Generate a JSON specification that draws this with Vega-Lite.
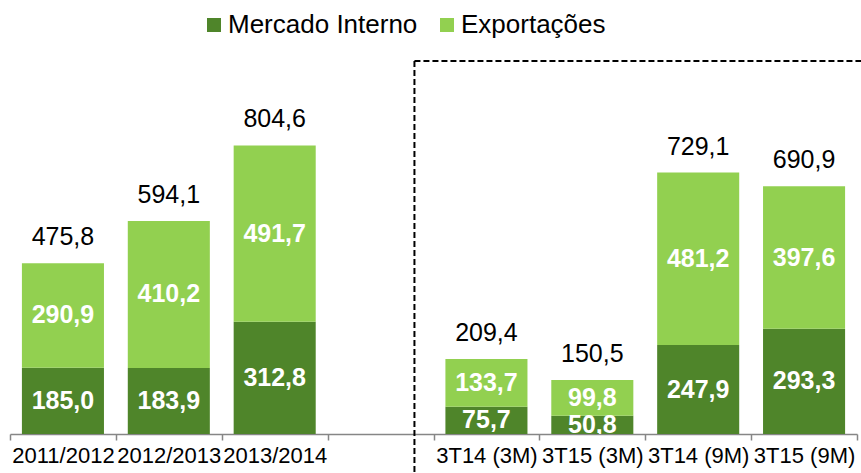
{
  "$schema": "https://vega.github.io/schema/vega-lite/v6.json",
  "width": 847,
  "height": 373,
  "autosize": {"type": "none"},
  "padding": {"left": 10, "top": 61, "right": 4, "bottom": 39},
  "datasets": {
    "bars": [
      {"cat": "2011/2012", "serie": "Mercado Interno", "value": 185.0},
      {"cat": "2011/2012", "serie": "Exportações", "value": 290.9},
      {"cat": "2012/2013", "serie": "Mercado Interno", "value": 183.9},
      {"cat": "2012/2013", "serie": "Exportações", "value": 410.2},
      {"cat": "2013/2014", "serie": "Mercado Interno", "value": 312.8},
      {"cat": "2013/2014", "serie": "Exportações", "value": 491.7},
      {"cat": "3T14 (3M)", "serie": "Mercado Interno", "value": 75.7},
      {"cat": "3T14 (3M)", "serie": "Exportações", "value": 133.7},
      {"cat": "3T15 (3M)", "serie": "Mercado Interno", "value": 50.8},
      {"cat": "3T15 (3M)", "serie": "Exportações", "value": 99.8},
      {"cat": "3T14 (9M)", "serie": "Mercado Interno", "value": 247.9},
      {"cat": "3T14 (9M)", "serie": "Exportações", "value": 481.2},
      {"cat": "3T15 (9M)", "serie": "Mercado Interno", "value": 293.3},
      {"cat": "3T15 (9M)", "serie": "Exportações", "value": 397.6}
    ],
    "totals": [
      {"cat": "2011/2012", "total": 475.8},
      {"cat": "2012/2013", "total": 594.1},
      {"cat": "2013/2014", "total": 804.6},
      {"cat": "3T14 (3M)", "total": 209.4},
      {"cat": "3T15 (3M)", "total": 150.5},
      {"cat": "3T14 (9M)", "total": 729.1},
      {"cat": "3T15 (9M)", "total": 690.9}
    ]
  },
  "encoding": {
    "x": {
      "field": "cat",
      "type": "nominal",
      "scale": {
        "type": "band",
        "domain": ["2011/2012", "2012/2013", "2013/2014", " ", "3T14 (3M)", "3T15 (3M)", "3T14 (9M)", "3T15 (9M)"],
        "paddingInner": 0,
        "paddingOuter": 0
      },
      "axis": {
        "title": null,
        "labelAngle": 0,
        "labelFont": "Liberation Sans",
        "labelFontSize": 22,
        "labelColor": "#000000",
        "labelPadding": 5,
        "labelOverlap": false,
        "labelBound": false,
        "labelLimit": 0,
        "domainColor": "#868686",
        "domainWidth": 1.5,
        "tickColor": "#868686",
        "tickWidth": 1.5,
        "tickSize": 6,
        "tickBand": "extent",
        "grid": false
      }
    }
  },
  "layer": [
    {
      "data": {"name": "bars"},
      "mark": {"type": "bar", "width": {"band": 0.775}},
      "encoding": {
        "y": {
          "field": "value",
          "type": "quantitative",
          "stack": "zero",
          "scale": {"domain": [0, 1040], "nice": false},
          "axis": null
        },
        "color": {
          "field": "serie",
          "type": "nominal",
          "scale": {"domain": ["Mercado Interno", "Exportações"], "range": ["#4F852A", "#92D050"]},
          "legend": {
            "title": null,
            "orient": "none",
            "direction": "horizontal",
            "legendX": 191,
            "legendY": -49,
            "symbolType": "square",
            "symbolSize": 196,
            "symbolStrokeWidth": 0,
            "labelFont": "Liberation Sans",
            "labelFontSize": 26,
            "labelColor": "#000000",
            "labelOffset": 1,
            "labelLimit": 0,
            "columnPadding": 16
          }
        },
        "order": {"field": "serie", "sort": "descending"}
      }
    },
    {
      "data": {"name": "bars"},
      "mark": {"type": "text", "font": "Liberation Sans", "fontSize": 25, "fontWeight": "bold", "color": "#ffffff", "baseline": "middle", "clip": true},
      "encoding": {
        "y": {
          "field": "value",
          "type": "quantitative",
          "stack": "zero",
          "bandPosition": 0.5,
          "scale": {"domain": [0, 1040], "nice": false},
          "axis": null
        },
        "detail": {"field": "serie"},
        "order": {"field": "serie", "sort": "descending"},
        "text": {"field": "value", "type": "quantitative", "format": ".1f"}
      }
    },
    {
      "data": {"name": "totals"},
      "mark": {"type": "text", "font": "Liberation Sans", "fontSize": 25, "color": "#000000", "baseline": "alphabetic", "dy": -18},
      "encoding": {
        "y": {
          "field": "total",
          "type": "quantitative",
          "scale": {"domain": [0, 1040], "nice": false},
          "axis": null
        },
        "text": {"field": "total", "type": "quantitative", "format": ".1f"}
      }
    },
    {
      "data": {"values": [{}]},
      "mark": {"type": "rule", "color": "#000000", "strokeWidth": 2, "strokeDash": [6, 3], "clip": false},
      "encoding": {
        "x": {"datum": " ", "type": "nominal", "bandPosition": 0.82},
        "y": {"datum": 1040, "type": "quantitative", "scale": {"domain": [0, 1040], "nice": false}, "axis": null},
        "y2": {"datum": -115}
      }
    },
    {
      "data": {"values": [{}]},
      "mark": {"type": "rule", "color": "#000000", "strokeWidth": 2, "strokeDash": [6, 3], "clip": false},
      "encoding": {
        "x": {"datum": " ", "type": "nominal", "bandPosition": 0.82},
        "x2": {"value": {"expr": "width + 4"}},
        "y": {"datum": 1040, "type": "quantitative", "scale": {"domain": [0, 1040], "nice": false}, "axis": null}
      }
    }
  ],
  "config": {
    "view": {"stroke": null},
    "locale": {"number": {"decimal": ",", "thousands": ".", "grouping": [3], "currency": ["", ""]}}
  }
}
